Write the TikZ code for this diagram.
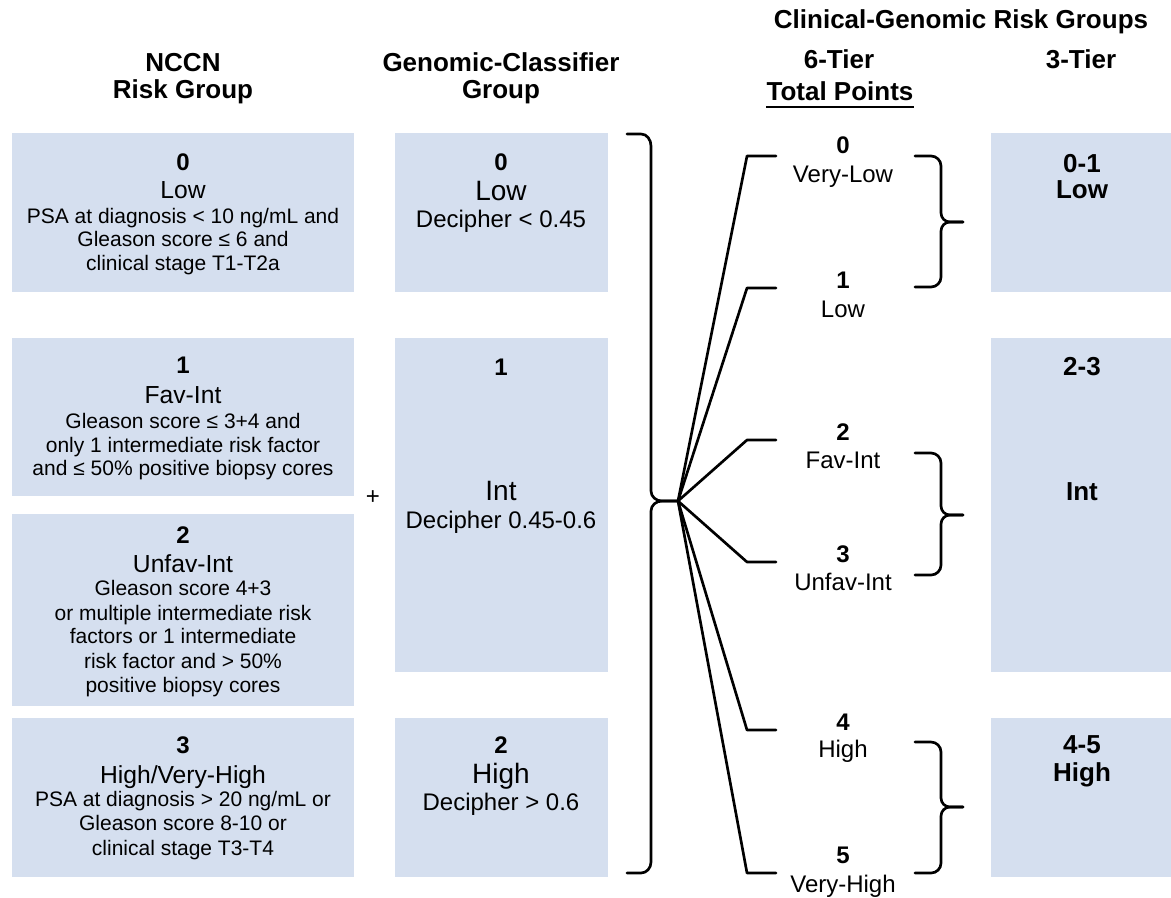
\documentclass[tikz,border=0pt]{standalone}
\usepackage{fontspec}
\setmainfont{Liberation Sans}
\usetikzlibrary{fit}
\definecolor{boxblue}{HTML}{D5DFEF}
\begin{document}
\begin{tikzpicture}[x=0.75pt,y=-0.75pt,
  box/.style={fill=boxblue, draw=none, inner sep=0pt, outer sep=0pt},
  txt/.style={anchor=base, inner sep=0pt, text=black},
  hdr/.style={txt, font=\fontsize{19.5}{22}\selectfont\bfseries},
  num/.style={txt, font=\fontsize{18}{20}\selectfont\bfseries},
  catl/.style={txt, font=\fontsize{18.5}{21}\selectfont},
  catm/.style={txt, font=\fontsize{21}{24}\selectfont},
  desc/.style={txt, font=\fontsize{15.75}{18}\selectfont},
  tier/.style={txt, font=\fontsize{18}{20}\selectfont},
  rgt/.style={txt, font=\fontsize{19.5}{22}\selectfont\bfseries},
  ln/.style={line width=2pt, line join=round, line cap=round}]
\useasboundingbox (0,0) rectangle (1171,897);

% ---------- boxes ----------
\node[box, fit={(12,133) (354,292)}] (L0) {};
\node[box, fit={(12,338) (354,496)}] (L1) {};
\node[box, fit={(12,514) (354,706)}] (L2) {};
\node[box, fit={(12,718) (354,877)}] (L3) {};
\node[box, fit={(395,133) (608,292)}] (G0) {};
\node[box, fit={(395,338) (608,672)}] (G1) {};
\node[box, fit={(395,718) (608,877)}] (G2) {};
\node[box, fit={(991,133) (1171,292)}] (R0) {};
\node[box, fit={(991,338) (1171,672)}] (R1) {};
\node[box, fit={(991,718) (1171,877)}] (R2) {};

% ---------- headers ----------
\node[hdr] (h1a) at (183,71) {NCCN};
\node[hdr] (h1b) at (183,98) {Risk Group};
\node[hdr] (h2a) at (501,71) {Genomic-Classifier};
\node[hdr] (h2b) at (501,98) {Group};
\node[hdr] (h3) at (961,28) {Clinical-Genomic Risk Groups};
\node[hdr] (h6) at (839,68) {6-Tier};
\node[hdr] (h7) at (1081,68) {3-Tier};
\node[hdr] (tp) at (840,100) {Total Points};
\draw[line width=1.5pt] ([yshift=-5.3pt]tp.base west) -- ([yshift=-5.3pt]tp.base east);

% ---------- NCCN column ----------
\node[num] (l0n) at (183,170) {0};
\node[catl] (l0c) at (183,198) {Low};
\node[desc] (l0d1) at (183,223) {PSA at diagnosis < 10 ng/mL and};
\node[desc] (l0d2) at (183,246) {Gleason score ≤ 6 and};
\node[desc] (l0d3) at (183,270) {clinical stage T1-T2a};

\node[num] (l1n) at (183,373) {1};
\node[catl] (l1c) at (183,403) {Fav-Int};
\node[desc] (l1d1) at (183,428) {Gleason score ≤ 3+4 and};
\node[desc] (l1d2) at (183,452) {only 1 intermediate risk factor};
\node[desc] (l1d3) at (183,475) {and ≤ 50\% positive biopsy cores};

\node[num] (l2n) at (183,543) {2};
\node[catl] (l2c) at (183,572) {Unfav-Int};
\node[desc] (l2d1) at (183,595) {Gleason score 4+3};
\node[desc] (l2d2) at (183,620) {or multiple intermediate risk};
\node[desc] (l2d3) at (183,643) {factors or 1 intermediate};
\node[desc] (l2d4) at (183,668) {risk factor and > 50\%};
\node[desc] (l2d5) at (183,692) {positive biopsy cores};

\node[num] (l3n) at (183,753) {3};
\node[catl] (l3c) at (183,783) {High/Very-High};
\node[desc] (l3d1) at (183,806) {PSA at diagnosis > 20 ng/mL or};
\node[desc] (l3d2) at (183,830) {Gleason score 8-10 or};
\node[desc] (l3d3) at (183,855) {clinical stage T3-T4};

\node[tier] (plus) at (373,504) {+};

% ---------- Genomic column ----------
\node[num] (g0n) at (501,170) {0};
\node[catm] (g0c) at (501,200) {Low};
\node[tier] (g0d) at (501,227) {Decipher < 0.45};
\node[num] (g1n) at (501,375) {1};
\node[catm] (g1c) at (501,500) {Int};
\node[tier] (g1d) at (501,528) {Decipher 0.45-0.6};
\node[num] (g2n) at (501,753) {2};
\node[catm] (g2c) at (501,783) {High};
\node[tier] (g2d) at (501,810) {Decipher > 0.6};

% ---------- 3-tier column ----------
\node[rgt] (r0n) at (1082,172) {0-1};
\node[rgt] (r0c) at (1082,198) {Low};
\node[rgt] (r1n) at (1082,375) {2-3};
\node[rgt] (r1c) at (1082,500) {Int};
\node[rgt] (r2n) at (1082,753) {4-5};
\node[rgt] (r2c) at (1082,781) {High};

% ---------- 6-tier labels ----------
\node[num] (t0n) at (843,153) {0};
\node[tier] (t0c) at (843,182) {Very-Low};
\node[num] (t1n) at (843,288) {1};
\node[tier] (t1c) at (843,317) {Low};
\node[num] (t2n) at (843,440) {2};
\node[tier] (t2c) at (843,468) {Fav-Int};
\node[num] (t3n) at (843,562) {3};
\node[tier] (t3c) at (843,590) {Unfav-Int};
\node[num] (t4n) at (843,730) {4};
\node[tier] (t4c) at (843,757) {High};
\node[num] (t5n) at (843,863) {5};
\node[tier] (t5c) at (843,892) {Very-High};

% ---------- big bracket ----------
\coordinate (hub) at (678,501);
\draw[ln] (627,134) -- (641,134) to[out=0,in=90] (651,146) -- (651,491)
  to[out=-90,in=180] (662,501) -- (hub);
\draw[ln] (hub) -- (662,501) to[out=180,in=90] (651,511) -- (651,862)
  to[out=-90,in=0] (641,873) -- (627,873);

% ---------- fan ----------
\foreach \i/\yy in {0/156,1/288,2/440,3/562,4/730,5/873}{
  \coordinate (fa\i) at (747,\yy);
  \coordinate (fb\i) at (776,\yy);
  \draw[ln] (hub) -- (fa\i) -- (fb\i);
}

% ---------- small braces ----------
\foreach \k/\ta/\mi/\bo in {0/156/222/287, 1/453/515/575, 2/742/807/873}{
  \coordinate (bt\k) at (915,\ta);
  \coordinate (bm\k) at (963,\mi);
  \coordinate (bb\k) at (915,\bo);
  \draw[ln] (bt\k) -- (931,\ta) to[out=0,in=90] (941,\ta+10) -- (941,\mi-9)
    to[out=-90,in=180] (950,\mi) -- (bm\k);
  \draw[ln] (bm\k) -- (950,\mi) to[out=180,in=90] (941,\mi+9) -- (941,\bo-10)
    to[out=-90,in=0] (931,\bo) -- (bb\k);
}
\end{tikzpicture}
\end{document}
